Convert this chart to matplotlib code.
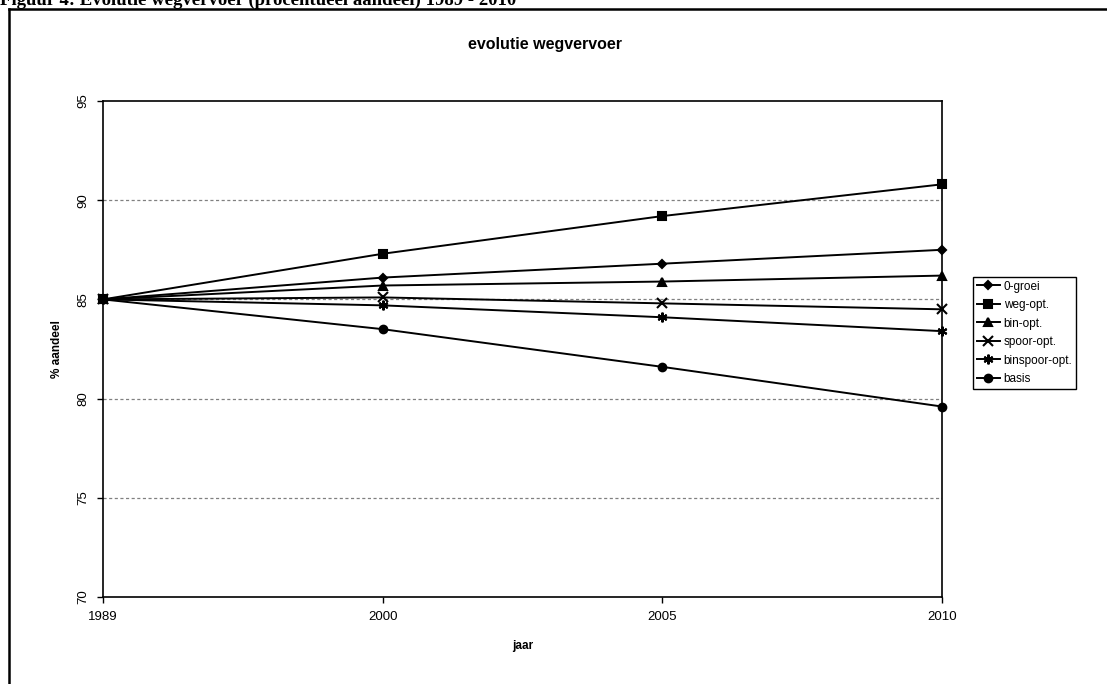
import matplotlib.pyplot as plt
from matplotlib.lines import Line2D

# data
years = ['1989', '2000', '2005', '2010']
nul_groei = [85.0, 86.1, 86.8, 87.5]
weg_opt = [85.0, 87.3, 89.2, 90.8]
bin_opt = [85.0, 85.7, 85.9, 86.2]
spoor_opt = [85.0, 85.1, 84.8, 84.5]
binspoor_opt = [85.0, 84.7, 84.1, 83.4]
basis = [85.0, 83.5, 81.6, 79.6]

labels = ['0-groei', 'weg-opt.', 'bin-opt.', 'spoor-opt.', 'binspoor-opt.', 'basis']
series = [nul_groei, weg_opt, bin_opt, spoor_opt, binspoor_opt, basis]
markers = ['D', 's', '^', 'x', (6, 2, 0), 'o']
msizes = [4.5, 5.5, 5.5, 6.5, 7, 5.5]

plt.rcParams['font.family'] = ['Liberation Sans', 'DejaVu Sans']

fig = plt.figure(figsize=(11.07, 6.84), dpi=100)
ax = fig.add_axes([103 / 1107, 1 - 597 / 684, (942 - 103) / 1107, (597 - 101) / 684])

x = list(range(len(years)))
for vals, lab, m, ms in zip(series, labels, markers, msizes):
    ax.plot(x, vals, color='black', lw=1.4, marker=m, ms=ms, mew=1.5,
            label=lab, clip_on=False, zorder=3)

ax.set_xlim(0, 3)
ax.set_ylim(70, 95)
ax.set_xticks(x)
ax.set_xticklabels(years, fontsize=9.5)
ax.set_yticks([70, 75, 80, 85, 90, 95])
ax.set_yticklabels(['70', '75', '80', '85', '90', '95'], fontsize=9.5, rotation=90, va='center')
ax.tick_params(direction='out', length=4, width=1, pad=6)
for yv in [75, 80, 85, 90]:
    ax.axhline(yv, color='#808080', lw=0.9, ls=(0, (2.5, 2)), zorder=1)
for s in ax.spines.values():
    s.set_linewidth(1.2)

ax.set_xlabel('jaar', fontsize=8.5, fontweight='bold', labelpad=12)
ax.set_ylabel('% aandeel', fontsize=8.5, fontweight='bold', labelpad=10)
fig.text(545 / 1107, 1 - 45 / 684, 'evolutie wegvervoer', fontsize=11.5, fontweight='bold',
         ha='center', va='center')

leg = ax.legend(loc='upper left', bbox_to_anchor=(973 / 1107, 1 - 277 / 684),
                bbox_transform=fig.transFigure, borderaxespad=0, fancybox=False,
                edgecolor='black', fontsize=8.5, handlelength=2.0, handletextpad=0.3,
                labelspacing=0.55, borderpad=0.3, framealpha=1)
leg.get_frame().set_linewidth(1.0)

# outer frame of the scanned figure (left and top edges) and cut-off caption
fig.add_artist(Line2D([9 / 1107, 9 / 1107], [0, 1 - 9 / 684], transform=fig.transFigure,
                      color='black', lw=1.8))
fig.add_artist(Line2D([9 / 1107, 1], [1 - 9 / 684, 1 - 9 / 684], transform=fig.transFigure,
                      color='black', lw=1.8))
fig.text(0.0, 1 - 5 / 684, 'Figuur 4: Evolutie wegvervoer (procentueel aandeel) 1989 - 2010',
         fontsize=13.5, fontweight='bold', family=['Liberation Serif', 'DejaVu Serif'],
         ha='left', va='baseline')

fig.savefig('out.png', dpi=100)
